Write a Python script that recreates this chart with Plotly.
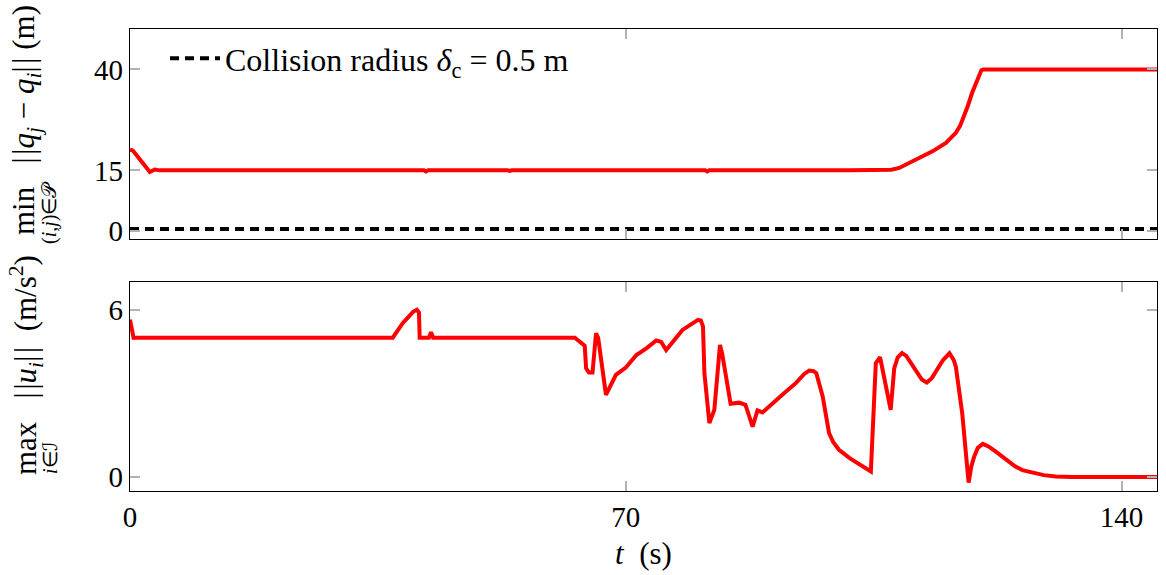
import plotly.graph_objects as go

# --- data -------------------------------------------------------------
# minimum pairwise distance between agents (m)
t_dist = [0.0, 0.4, 2.8, 3.5, 4.2, 20.0, 35.0, 41.5, 41.8, 42.1, 53.3, 53.6, 53.9,
          64.1, 64.4, 64.7, 81.2, 81.5, 81.8, 101.6, 106.2, 107.5, 108.6, 111.0,
          113.3, 115.2, 116.6, 117.2, 117.8, 118.3, 118.9, 119.5, 120.2, 120.5,
          145.0]
d_min = [20.1, 19.9, 14.6, 15.2, 15.0, 15.0, 15.0, 15.0, 14.7, 15.0, 15.0, 14.85, 15.0,
         15.0, 14.8, 15.0, 15.0, 14.7, 15.0, 15.0, 15.0, 15.15, 15.6, 17.6,
         19.7, 21.8, 24.3, 26.0, 28.4, 31.0, 34.2, 37.0, 39.8, 40.0,
         40.0]

# collision radius
t_radius = [0.0, 145.0]
radius = [0.5, 0.5]

# maximum control input magnitude (m/s^2)
t_acc = [0.0, 0.5, 37.1, 38.5, 40.0, 40.5, 40.8, 40.9, 42.2, 42.5, 42.8, 62.8,
         64.2, 64.4, 64.8, 65.3, 65.8, 66.1, 67.2, 68.6, 70.0, 71.5, 72.9, 74.3,
         75.0, 75.7, 78.0, 79.2, 80.2, 80.6, 80.9, 81.1, 81.8, 82.5, 83.3, 83.6,
         84.8, 86.0, 86.9, 87.9, 88.6, 89.3, 90.3, 92.1, 94.0, 95.2, 95.9, 96.5,
         96.9, 97.3, 97.8, 98.7, 99.3, 100.1, 101.0, 101.6, 104.6, 105.3, 105.9,
         107.4, 107.9, 108.4, 109.0, 109.6, 111.8, 112.5, 113.2, 114.8, 115.7,
         116.3, 116.6, 117.0, 117.5, 118.4, 118.8, 119.2, 119.7, 120.4, 121.2,
         122.2, 123.5, 125.0, 126.0, 127.4, 129.0, 130.7, 133.0, 145.0]
u_max = [5.65, 5.0, 5.0, 5.52, 5.94, 6.0, 5.9, 5.0, 5.0, 5.2, 5.0, 5.0,
         4.71, 3.9, 3.75, 3.75, 5.16, 5.0, 2.95, 3.67, 3.93, 4.38, 4.62, 4.9,
         4.85, 4.56, 5.28, 5.5, 5.64, 5.62, 5.4, 3.73, 1.94, 2.41, 4.74, 4.44,
         2.63, 2.67, 2.59, 1.81, 2.39, 2.32, 2.53, 2.95, 3.37, 3.7, 3.82, 3.8,
         3.73, 3.4, 2.89, 1.58, 1.25, 0.98, 0.78, 0.68, 0.2, 4.09, 4.3,
         2.41, 3.9, 4.3, 4.45, 4.35, 3.5, 3.39, 3.55, 4.2, 4.44,
         4.2, 3.96, 3.3, 2.29, -0.2, 0.4, 0.74, 1.05, 1.19, 1.1,
         0.92, 0.65, 0.38, 0.25, 0.16, 0.07, 0.02, 0.0, 0.0]

x_ticks = [0, 70, 140]
y_ticks_top = [0, 15, 40]
y_ticks_bottom = [0, 6]

# --- figure -----------------------------------------------------------
FONT = "Liberation Serif"
FS = 29
TITLE_FS = 31
RED = "#ff0000"

fig = go.Figure()
fig.add_trace(go.Scatter(x=t_dist, y=d_min, mode="lines", xaxis="x2", yaxis="y2",
                         line=dict(color=RED, width=4), showlegend=False))
fig.add_trace(go.Scatter(x=t_radius, y=radius, mode="lines", xaxis="x2", yaxis="y2",
                         line=dict(color="black", width=4, dash="9px,6px"),
                         name="Collision radius <i>δ</i><sub>c</sub>&nbsp;=&nbsp;0.5&nbsp;m"))
fig.add_trace(go.Scatter(x=t_acc, y=u_max, mode="lines", xaxis="x", yaxis="y",
                         line=dict(color=RED, width=4), showlegend=False))

axis_style = dict(showline=True, linecolor="black", linewidth=1.3, mirror="ticks",
                  ticks="inside", ticklen=10, tickcolor="#b3b3b3", tickwidth=1.5,
                  showgrid=False, zeroline=False,
                  tickfont=dict(family=FONT, size=FS, color="black"))

W, H = 1166, 575
L, R, T, B = 130, 9, 29, 84
plot_h = H - T - B
plot_w = W - L - R


def py(p):
    """Pixel row -> paper y."""
    return (H - B - p) / plot_h


def px(p):
    """Pixel column -> paper x."""
    return (p - L) / plot_w


fig.update_layout(
    width=W, height=H,
    margin=dict(l=L, r=R, t=T, b=B),
    paper_bgcolor="white", plot_bgcolor="white",
    font=dict(family=FONT, size=FS, color="black"),
    xaxis=dict(range=[0, 145], tickvals=x_ticks, anchor="y", **axis_style),
    xaxis2=dict(range=[0, 145], tickvals=x_ticks, anchor="y2", matches="x",
                showticklabels=False, **axis_style),
    yaxis=dict(range=[-0.5, 7], tickvals=y_ticks_bottom, domain=[0, py(282)],
               anchor="x", **axis_style),
    yaxis2=dict(range=[-2, 50], tickvals=y_ticks_top, domain=[py(239), 1],
                anchor="x2", **axis_style),
    legend=dict(x=px(165), y=py(31), xanchor="left", yanchor="top",
                itemwidth=50,
                bgcolor="rgba(0,0,0,0)", borderwidth=0,
                font=dict(family=FONT, size=32, color="black")),
)

BARS = "|&#8202;|"
annotations = [
    # x-axis title
    dict(text="<i>t</i>&nbsp; (s)", x=px(643), y=py(553), xref="paper", yref="paper",
         showarrow=False, xanchor="center", yanchor="middle",
         font=dict(family=FONT, size=TITLE_FS)),
    # top y-axis title
    dict(text=f"min&nbsp;&nbsp; {BARS}<i>q</i><sub><i>j</i></sub> − "
              f"<i>q</i><sub><i>i</i></sub>{BARS} (m)",
         x=px(26), y=py(237), xref="paper", yref="paper", textangle=-90,
         showarrow=False, xanchor="center", yanchor="bottom",
         font=dict(family=FONT, size=TITLE_FS)),
    dict(text="(<i>i</i>,<i>j</i>)∈𝒫", x=px(50), y=py(213), xref="paper", yref="paper",
         textangle=-90, showarrow=False, xanchor="center", yanchor="middle",
         font=dict(family=FONT, size=20)),
    # bottom y-axis title
    dict(text=f"max&nbsp;&nbsp; {BARS}<i>u</i><sub><i>i</i></sub>{BARS}&nbsp; "
              f"(m/s<sup>2</sup>)",
         x=px(26), y=py(477), xref="paper", yref="paper", textangle=-90,
         showarrow=False, xanchor="center", yanchor="bottom",
         font=dict(family=FONT, size=TITLE_FS)),
    dict(text="<i>i</i>∈ℐ", x=px(50), y=py(458), xref="paper", yref="paper",
         textangle=-90, showarrow=False, xanchor="center", yanchor="middle",
         font=dict(family=FONT, size=20)),
]
fig.update_layout(annotations=annotations)

fig.write_html("out.html")
